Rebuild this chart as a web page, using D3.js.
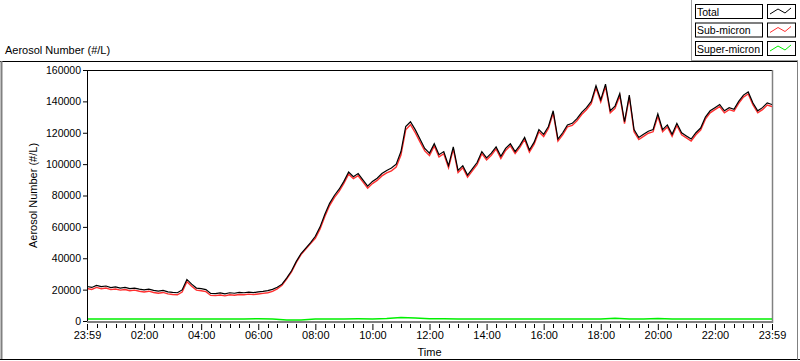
<!DOCTYPE html>
<html><head><meta charset="utf-8">
<script src="https://cdn.jsdelivr.net/npm/d3@7/dist/d3.min.js"></script>
<style>
html,body{margin:0;padding:0;background:#fff;}
svg{display:block;font-family:"Liberation Sans",Arial,sans-serif;}
</style></head>
<body><svg id="c" width="800" height="361"></svg>
<script>
// ---- data ----
const timeHours = d3.range(0, 24.0001, 1/6); // 10-minute samples from 23:59 to 23:59
const totalValues = [
22000,21400,22700,21900,22300,21300,
21700,21000,21400,20600,21000,20300,
19800,20300,19500,19000,19500,18600,
18200,18000,19800,26500,23500,21000,
20600,20000,17600,17500,17900,17300,
18000,17700,18200,18000,18400,18100,
18600,18900,19400,20200,21500,23500,
27500,32000,38000,43000,46500,50000,
54000,60000,68000,75000,80000,84000,
89000,95000,92000,94000,90000,86000,
89000,91000,94000,96000,97500,100000,
108000,124000,127000,122000,116000,110000,
107000,113000,106000,108000,99000,111000,
96000,99000,93000,97000,101000,108000,
104000,107000,111000,105000,110000,113000,
108000,112000,117000,109000,114000,122000,
119000,124000,134000,116000,120000,125000,
126000,129000,133000,136000,140000,150000,
141000,151000,134000,137000,145000,127000,
144000,122000,117000,119000,121000,122000,
132000,122000,125000,119000,126000,120000,
118000,116000,120000,123000,130000,134000,
136000,138000,134000,136000,135000,140000,
144000,146000,139000,134000,136000,139000,
138000];
const subMicronValues = [
20700,20100,21400,20600,21000,20000,
20400,19700,20100,19300,19700,19000,
18500,19000,18200,17700,18200,17300,
16900,16700,18500,25100,22200,19700,
19300,18700,16300,16200,16600,16000,
16700,16400,16900,16700,17100,16800,
17200,17600,18000,18900,20500,22800,
26800,31300,37300,42300,45800,49300,
52700,58700,66600,73600,78700,82600,
87700,93600,90700,92600,88700,84600,
87600,89600,92500,94400,95700,98100,
105800,121900,125100,120000,114200,108400,
105500,111600,104600,106600,97600,109600,
94600,97700,91700,95700,99700,106700,
102700,105700,109700,103600,108700,111700,
106700,110700,115700,107700,112700,120700,
117600,122700,132600,114700,118700,123700,
124700,127700,131600,134700,138600,148700,
139700,149600,132700,135500,143600,125800,
142700,120700,115700,117700,119700,120600,
130500,120700,123700,117700,124700,118700,
116700,114700,118700,121700,128700,132700,
134700,136700,132700,134700,133700,138700,
142700,144700,137700,132700,134700,137700,
136700];
const superTimeHours = d3.range(0, 24.0001, 0.5);
const superMicronValues = [
1300,1250,1300,1280,1300,1260,1300,1350,1300,1280,1300,1320,
1450,1300,700,650,1300,1350,1300,1400,1350,1600,2200,1900,
1500,1400,1350,1300,1300,1350,1300,1300,1350,1300,1300,1350,
1300,1800,1300,1300,1600,1300,1300,1280,1300,1300,1300,1300,1300];
const xTickHours = [0,2,4,6,8,10,12,14,16,18,20,22,24];
const xTickLabels = ["23:59","02:00","04:00","06:00","08:00","10:00","12:00","14:00","16:00","18:00","20:00","22:00","23:59"];
const yTicks = [0,20000,40000,60000,80000,100000,120000,140000,160000];
const legendNames = ["Total","Sub-micron","Super-micron"];
const legendColors = ["#000000","#ff3030","#00f000"];

// ---- drawing ----
const svg = d3.select("#c");
const L = 87, R = 772, T = 70, B = 321;
const x = d3.scaleLinear().domain([0,24]).range([L,R]);
const y = d3.scaleLinear().domain([0,160000]).range([B,T]);

// outer panel
svg.append("text").attr("x",5).attr("y",54).attr("font-size",11).text("Aerosol Number (#/L)");
svg.append("line").attr("x1",0).attr("x2",798).attr("y1",61.5).attr("y2",61.5).attr("stroke","#000");
svg.append("line").attr("x1",1.5).attr("x2",1.5).attr("y1",61).attr("y2",359).attr("stroke","#808080").attr("stroke-width",2);
svg.append("line").attr("x1",0).attr("x2",800).attr("y1",359.5).attr("y2",359.5).attr("stroke","#000");
svg.append("line").attr("x1",797.5).attr("x2",797.5).attr("y1",61).attr("y2",360).attr("stroke","#808080");

// plot frame
svg.append("line").attr("x1",L).attr("x2",R).attr("y1",T+0.5).attr("y2",T+0.5).attr("stroke","#000");
svg.append("line").attr("x1",R+0.5).attr("x2",R+0.5).attr("y1",T).attr("y2",B+2).attr("stroke","#808080").attr("stroke-width",1.5);

// series
svg.append("clipPath").attr("id","pc").append("rect").attr("x",L).attr("y",T).attr("width",R-L).attr("height",B-T);
const g = svg.append("g").attr("clip-path","url(#pc)");
const line = d3.line().x(d=>x(d[0])).y(d=>y(d[1]));
g.append("path").datum(superTimeHours.map((t,i)=>[t,superMicronValues[i]]))
  .attr("d",line).attr("fill","none").attr("stroke",legendColors[2]).attr("stroke-width",1.5);
g.append("path").datum(timeHours.map((t,i)=>[t,subMicronValues[i]]))
  .attr("d",line).attr("fill","none").attr("stroke",legendColors[1]).attr("stroke-width",1.4);
g.append("path").datum(timeHours.map((t,i)=>[t,totalValues[i]]))
  .attr("d",line).attr("fill","none").attr("stroke",legendColors[0]).attr("stroke-width",1.2);

// x axis
svg.append("line").attr("x1",L).attr("x2",R+1).attr("y1",B+1).attr("y2",B+1).attr("stroke","#808080").attr("stroke-width",2);
const xAxis = d3.axisBottom(x).tickValues(xTickHours).tickSize(7).tickFormat((d,i)=>xTickLabels[i]);
const xa = svg.append("g").attr("transform",`translate(0,${B+2})`).call(xAxis);
xa.select(".domain").remove();
xa.selectAll("text").attr("font-size",11).attr("font-family","Liberation Sans, Arial, sans-serif").attr("fill","#000").attr("dy","0.55em");
xa.selectAll("line").attr("stroke","#000").attr("y1",1);
const minor = d3.range(0,24.0001,1/3).filter(h=>Math.abs(h/2-Math.round(h/2))>1e-6);
svg.append("g").selectAll("line").data(minor).join("line")
  .attr("x1",d=>Math.round(x(d))+0.5).attr("x2",d=>Math.round(x(d))+0.5).attr("y1",B+3).attr("y2",B+7).attr("stroke","#000");
svg.append("text").attr("x",(L+R)/2).attr("y",356).attr("text-anchor","middle").attr("font-size",11).text("Time");

// y axis
const yAxis = d3.axisLeft(y).tickValues(yTicks).tickSize(4).tickFormat(d3.format("d"));
const ya = svg.append("g").attr("transform",`translate(${L},0)`).call(yAxis);
ya.select(".domain").attr("stroke","#000").attr("d",`M0.5,${T}V${B}`);
ya.selectAll("text").attr("font-size",10.5).attr("font-family","Liberation Sans, Arial, sans-serif").attr("fill","#000").attr("x",-6);
svg.append("text").attr("transform",`translate(37,${(T+B)/2}) rotate(-90)`).attr("text-anchor","middle").attr("font-size",11).text("Aerosol Number (#/L)");

// legend
svg.append("line").attr("x1",691.5).attr("x2",691.5).attr("y1",0).attr("y2",60).attr("stroke","#a0a0a0");
svg.append("line").attr("x1",691).attr("x2",798).attr("y1",60.5).attr("y2",60.5).attr("stroke","#a0a0a0");
const lg = svg.append("g").selectAll("g").data(legendNames).join("g")
  .attr("transform",(d,i)=>`translate(0,${4+i*18.5})`);
lg.append("rect").attr("x",695.5).attr("y",0.5).attr("width",67).attr("height",14).attr("fill","#fff").attr("stroke","#000");
lg.append("text").attr("x",697).attr("y",11.5).attr("font-size",10.5).text(d=>d);
lg.append("rect").attr("x",767.5).attr("y",0.5).attr("width",28).attr("height",14).attr("fill","#fff").attr("stroke","#000");
lg.append("polyline").attr("points","770,10 778,5 785,9 791,4").attr("fill","none").attr("stroke",(d,i)=>legendColors[i]);
</script></body></html>
